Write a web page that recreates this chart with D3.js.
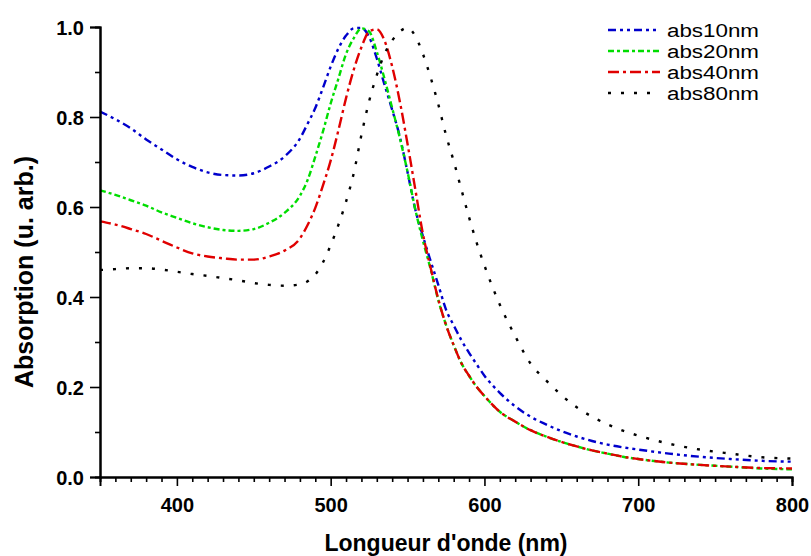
<!DOCTYPE html>
<html><head><meta charset="utf-8">
<script src="https://cdn.jsdelivr.net/npm/d3@7"></script>
<style>
body{margin:0;background:#fff}
svg text{font-family:"Liberation Sans",Arial,sans-serif;fill:#000}
</style>
</head><body>
<svg id="chart" width="811" height="556"></svg>
<script>
// ---- data ----
const wavelengths = [350,360,370,380,390,400,410,420,430,440,450,460,470,480,
  485,490,495,500,505,510,515,520,525,530,535,540,545,550,555,560,565,570,575,580,585,590,595,600,
  610,620,630,640,650,660,670,680,690,700,
  720,740,760,780,800];
const abs10 = [0.812,0.795,0.775,0.750,0.728,0.706,0.689,0.677,0.671,0.670,0.675,0.690,0.712,0.752,
  0.785,0.820,0.865,0.912,0.952,0.981,0.997,0.998,0.978,0.930,0.872,0.816,0.756,0.677,0.595,0.535,0.480,0.427,0.372,0.337,0.304,0.276,0.250,0.225,
  0.187,0.157,0.134,0.117,0.102,0.090,0.080,0.072,0.066,0.061,
  0.052,0.045,0.040,0.036,0.034];
const abs20 = [0.637,0.627,0.615,0.603,0.588,0.576,0.564,0.555,0.549,0.547,0.551,0.565,0.587,0.625,
  0.660,0.712,0.768,0.830,0.885,0.940,0.975,0.997,0.990,0.945,0.885,0.820,0.753,0.678,0.595,0.525,0.462,0.393,0.338,0.293,0.253,0.225,0.200,0.180,
  0.145,0.123,0.104,0.090,0.078,0.068,0.059,0.052,0.045,0.040,
  0.032,0.027,0.023,0.019,0.017];
const abs40 = [0.568,0.561,0.551,0.540,0.525,0.510,0.497,0.490,0.486,0.483,0.483,0.490,0.503,0.530,
  0.560,0.598,0.648,0.703,0.770,0.842,0.905,0.955,0.990,0.995,0.970,0.912,0.834,0.740,0.640,0.540,0.465,0.395,0.338,0.293,0.253,0.225,0.200,0.180,
  0.145,0.123,0.104,0.090,0.078,0.068,0.059,0.052,0.045,0.040,
  0.032,0.027,0.023,0.020,0.019];
const abs80 = [0.460,0.462,0.464,0.464,0.461,0.456,0.451,0.447,0.442,0.437,0.431,0.427,0.425,0.428,
  0.435,0.450,0.477,0.515,0.560,0.612,0.675,0.760,0.835,0.893,0.940,0.970,0.990,0.998,0.980,0.940,0.888,0.828,0.760,0.702,0.639,0.577,0.520,0.470,
  0.383,0.313,0.252,0.215,0.182,0.155,0.134,0.117,0.103,0.092,
  0.074,0.061,0.052,0.044,0.041];
const seriesNames = ["abs10nm","abs20nm","abs40nm","abs80nm"];
const seriesValues = [abs10, abs20, abs40, abs80];
const xTickValues = [400,500,600,700,800];
const yTickValues = [0.0,0.2,0.4,0.6,0.8,1.0];
const xLabel = "Longueur d'onde (nm)";
const yLabel = "Absorption (u. arb.)";

// ---- styles ----
const colors = ["#0000cc","#00dd00","#e00000","#000000"];
const dashes = ["8,4,3,4,3,4","6,3,3,3","11,4,3,4","3,10"];

const svg = d3.select("#chart");
const x = d3.scaleLinear().domain([350,800]).range([100,792]);
const y = d3.scaleLinear().domain([0,1]).range([477,27]);

// curves
const line = d3.line().x(d=>x(d[0])).y(d=>y(d[1])).curve(d3.curveMonotoneX);
seriesValues.forEach((vals,i)=>{
  svg.append("path")
    .datum(wavelengths.map((w,j)=>[w,vals[j]]))
    .attr("fill","none").attr("stroke",colors[i]).attr("stroke-width",2.4)
    .attr("stroke-dasharray",dashes[i]).attr("d",line);
});

// axes
const minorX = d3.range(360,800,10).filter(v=>!xTickValues.includes(v));
const minorY = d3.range(0.1,1.0,0.2).map(v=>+v.toFixed(1));
const gxm = svg.append("g").attr("transform","translate(0,477)")
  .call(d3.axisBottom(x).tickValues(minorX).tickSize(5).tickFormat(""));
const gx = svg.append("g").attr("transform","translate(0,477)")
  .call(d3.axisBottom(x).tickValues(xTickValues).tickSize(9).tickPadding(12).tickFormat(d3.format("d")));
const gym = svg.append("g").attr("transform","translate(100,0)")
  .call(d3.axisLeft(y).tickValues(minorY).tickSize(5).tickFormat(""));
const gy = svg.append("g").attr("transform","translate(100,0)")
  .call(d3.axisLeft(y).tickValues(yTickValues).tickSize(10).tickPadding(6).tickFormat(d3.format(".1f")));
[gxm,gx,gym,gy].forEach(g=>{
  g.select(".domain").attr("stroke","#000").attr("stroke-width",2);
  g.selectAll(".tick line").attr("stroke","#000").attr("stroke-width",1.6);
  g.selectAll(".tick text").attr("font-size",20).attr("font-weight","bold")
   .attr("font-family","'Liberation Sans',Arial,sans-serif").attr("fill","#000");
});
gx.selectAll(".tick text").attr("dy","0.71em");
gy.selectAll(".tick text").attr("dy","0.35em");

// axis titles
svg.append("text").attr("x",446).attr("y",551).attr("text-anchor","middle")
  .attr("font-size",23).attr("font-weight","bold").text(xLabel);
svg.append("text").attr("transform","translate(33,272) rotate(-90)").attr("text-anchor","middle")
  .attr("font-size",25).attr("font-weight","bold").text(yLabel);

// legend
const legendY = [30,51,72,93];
seriesNames.forEach((name,i)=>{
  svg.append("line").attr("x1",608).attr("x2",660).attr("y1",legendY[i]).attr("y2",legendY[i])
    .attr("stroke",colors[i]).attr("stroke-width",2.4).attr("stroke-dasharray",dashes[i]);
  svg.append("text").attr("x",667).attr("y",legendY[i]+6.5).attr("font-size",18)
    .attr("textLength",92).attr("lengthAdjust","spacingAndGlyphs").text(name);
});
</script>
</body></html>
